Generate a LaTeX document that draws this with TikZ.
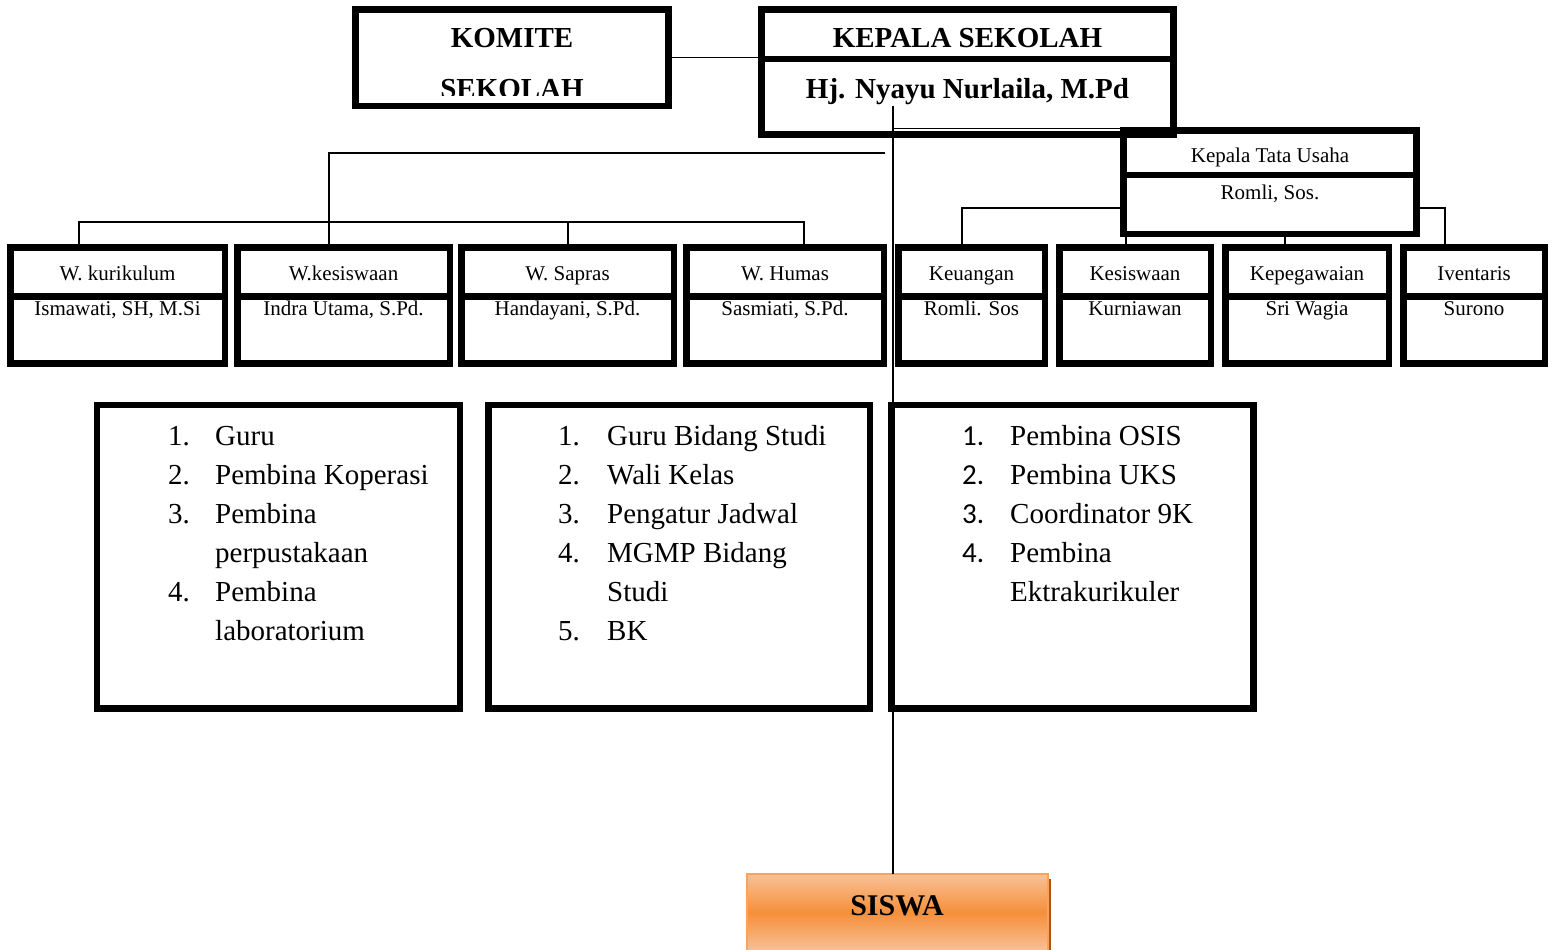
\documentclass[tikz,border=0pt]{standalone}
\usepackage{fontspec}
\setmainfont{Liberation Serif}
\newfontfamily\numfont{Carlito}
\usetikzlibrary{fit}
\definecolor{sisdark}{HTML}{F58F3A}
\definecolor{sislight}{HTML}{F9C196}
\definecolor{sisborder}{HTML}{F7A460}
\definecolor{sisshadow}{HTML}{A8561C}
\newcommand\rowbox[5]{%
  \node[box, fit={(#2,247.5) (#3,363.5)}] (#1) {};
  \draw[line width=6.5pt] (#1.west |- 0,296.5) -- (#1.east |- 0,296.5);
  \node[small] (#1t) at ({(#2+#3)/2},280) {#4};
  \node[small] (#1n) at ({(#2+#3)/2},315) {#5};
}
\begin{document}
\begin{tikzpicture}[x=1pt,y=-1pt,
  box/.style={draw, line width=6.5pt, inner sep=0pt, outer sep=0pt},
  conn/.style={line width=1.5pt},
  big/.style={font=\fontsize{29}{35}\selectfont\bfseries, inner sep=0pt, anchor=base},
  small/.style={font=\fontsize{21}{25}\selectfont, inner sep=0pt, anchor=base},
  lst/.style={font=\fontsize{29}{39}\selectfont, inner sep=0pt, anchor=north west, align=left},
]
\useasboundingbox (0,0) rectangle (1555,950);

% ---- top level
\node[box, fit={(355.5,9.5) (668.5,106)}] (komite) {};
\node[big] (komt1) at (512,47.5) {KOMITE};
\begin{scope}
  \clip (359,60) rectangle (665,95.5);
  \node[big] (komt2) at (512,99) {SEKOLAH};
\end{scope}

\node[box, fit={(761.5,9.5) (1173.5,134.5)}] (kepala) {};
\draw[line width=6.5pt] (kepala.west |- 0,59) -- (kepala.east |- 0,59);
\node[big] (kept1) at (967.5,47.5) {KEPALA SEKOLAH};
\node[big] (kept2) at (967.5,99) {Hj. Nyayu Nurlaila, M.Pd};

% ---- tata usaha
\node[box, fit={(1123.5,130.5) (1416.5,234)}] (tu) {};
\draw[line width=6.5pt] (tu.west |- 0,175) -- (tu.east |- 0,175);
\node[small] (tut1) at (1270,162) {Kepala Tata Usaha};
\node[small] (tut2) at (1270,199) {Romli, Sos.};

% ---- row of boxes
\rowbox{wkur}{10.25}{224.75}{W. kurikulum}{Ismawati, SH, M.Si}
\rowbox{wkes}{237.25}{449.75}{W.kesiswaan}{Indra Utama, S.Pd.}
\rowbox{wsap}{461.25}{673.75}{W. Sapras}{Handayani, S.Pd.}
\rowbox{whum}{686.25}{883.75}{W. Humas}{Sasmiati, S.Pd.}
\rowbox{keu}{898.25}{1044.75}{Keuangan}{Romli. Sos}
\rowbox{kes}{1059.25}{1210.75}{Kesiswaan}{Kurniawan}
\rowbox{kep}{1225.25}{1388.75}{Kepegawaian}{Sri Wagia}
\rowbox{inv}{1403.25}{1544.75}{Iventaris}{Surono}

% ---- list boxes
\node[box, fit={(97,405) (460,708.5)}] (lista) {};
\node[lst] (listat) at (168,417.7) {\begin{tabular}{@{}p{47pt}@{}l@{}}
1. & Guru\\
2. & Pembina Koperasi\\
3. & Pembina\\
   & perpustakaan\\
4. & Pembina\\
   & laboratorium
\end{tabular}};

\node[box, fit={(488.5,405) (870,708.5)}] (listb) {};
\node[lst] (listbt) at (558,417.7) {\begin{tabular}{@{}p{49pt}@{}l@{}}
1. & Guru Bidang Studi\\
2. & Wali Kelas\\
3. & Pengatur Jadwal\\
4. & MGMP Bidang\\
   & Studi\\
5. & BK
\end{tabular}};

\node[box, fit={(891.5,405) (1253.5,708.5)}] (listc) {};
\node[lst] (listct) at (962,417.7) {\begin{tabular}{@{}p{48pt}@{}l@{}}
{\numfont 1.} & Pembina OSIS\\
{\numfont 2.} & Pembina UKS\\
{\numfont 3.} & Coordinator 9K\\
{\numfont 4.} & Pembina\\
   & Ektrakurikuler
\end{tabular}};

% ---- siswa
\fill[sisshadow] (1047,879) rectangle (1051,950);
\node[fit={(747,874) (1048,951)}, inner sep=0pt, outer sep=0pt, draw=sisborder, line width=1.5pt,
  top color=sislight, bottom color=sislight, middle color=sisdark] (siswa) {};
\node[font=\fontsize{30}{36}\selectfont\bfseries, inner sep=0pt, anchor=base] (siswat) at (897,915) {SISWA};

% ---- connectors
\coordinate (ktop) at (893,106);
\coordinate (hubR) at (885,153);
\coordinate (bar) at (329,222);
\coordinate (tubar) at (0,208);

\draw[conn] (komite.east) -- (komite.east -| kepala.west);
\draw[conn] (ktop) -- (ktop |- siswa.north);
\draw[line width=1pt] (ktop |- 0,128) -- (tu.west |- 0,128);
\draw[conn] (hubR) -| (wkes.north -| bar);
\draw[conn] (wkur.north -| 79,0) -- (79,222) -- (804,222) -- (whum.north -| 804,0);
\draw[conn] (568,222) -- (wsap.north -| 568,0);
\draw[conn] (tu.west |- tubar) -| (keu.north -| 962,0);
\draw[conn] (tu.east |- tubar) -| (inv.north -| 1445,0);
\draw[conn] (tu.south -| 1126,0) -- (kes.north -| 1126,0);
\draw[conn] (tu.south -| 1285,0) -- (kep.north -| 1285,0);
\end{tikzpicture}
\end{document}
